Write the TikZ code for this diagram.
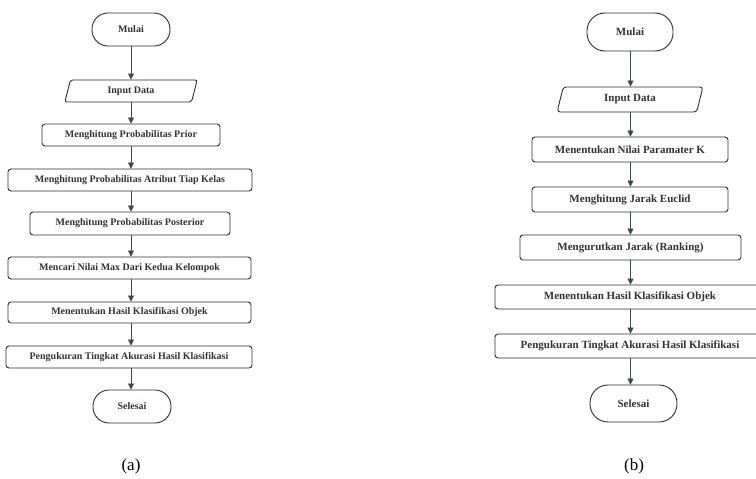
\documentclass[tikz,border=0pt]{standalone}
\usepackage{fontspec}
\setmainfont{Liberation Serif}
\usepackage{xcolor}
\usetikzlibrary{arrows.meta,shapes.geometric}
\definecolor{lineclr}{HTML}{3E4650}
\definecolor{edgeclr}{HTML}{2E2E2E}

\begin{document}
\begin{tikzpicture}[x=1pt, y=1pt,
                box/.style={draw=edgeclr, line width=0.9pt, rounded corners=3pt, inner sep=0pt,
                    font=\fontsize{10}{12}\selectfont\bfseries, text=black!80},
                bigbox/.style={box, font=\fontsize{11}{12}\selectfont\bfseries},
                term/.style={box, rounded corners=16pt},
                io/.style={box, rounded corners=2pt, trapezium, trapezium left angle=76, trapezium right angle=104,
                    trapezium stretches=true},
                arr/.style={-{Triangle[length=6pt,width=6pt]}, draw=lineclr, fill=lineclr, line width=0.7pt}]
                \clip (0,0) rectangle (756,-479);
                \fill[white] (0,0) rectangle (756,-479);

                \node[term, minimum width=78, minimum height=33] (mulaiA) at (131,-29.5) {Mulai};
                \node[io, minimum width=133, minimum height=22] (inputA) at (131,-91) {Input Data};
                \node[box, minimum width=178, minimum height=22] (priorA) at (131,-135) {Menghitung Probabilitas Prior};
                \node[box, minimum width=244, minimum height=22] (atributA) at (130,-180) {Menghitung Probabilitas Atribut Tiap Kelas};
                \node[box, minimum width=200, minimum height=23] (posteriorA) at (130,-223.5) {Menghitung Probabilitas Posterior};
                \node[box, minimum width=243, minimum height=22] (maxA) at (129.5,-268) {Mencari Nilai Max Dari Kedua Kelompok};
                \node[box, minimum width=243, minimum height=21] (objekA) at (129.5,-312.5) {Menentukan Hasil Klasifikasi Objek};
                \node[box, minimum width=246, minimum height=22] (ukurA) at (129,-357) {Pengukuran Tingkat Akurasi Hasil Klasifikasi};
                \node[term, minimum width=78, minimum height=33] (selesaiA) at (132,-406.5) {Selesai};

                \draw[arr] (mulaiA.south -| 131,0) -- (inputA.north -| 131,0);
                \draw[arr] (inputA.south -| 131,0) -- (priorA.north -| 131,0);
                \draw[arr] (priorA.south -| 131,0) -- (atributA.north -| 131,0);
                \draw[arr] (atributA.south -| 131,0) -- (posteriorA.north -| 131,0);
                \draw[arr] (posteriorA.south -| 131,0) -- (maxA.north -| 131,0);
                \draw[arr] (maxA.south -| 131,0) -- (objekA.north -| 131,0);
                \draw[arr] (objekA.south -| 131,0) -- (ukurA.north -| 131,0);
                \draw[arr] (ukurA.south -| 131,0) -- (selesaiA.north -| 131,0);

                \node[term, bigbox, minimum width=86, minimum height=38, rounded corners=18pt] (mulaiB) at (630,-32) {Mulai};
                \node[io, bigbox, minimum width=146, minimum height=25] (inputB) at (630,-99.5) {Input Data};
                \node[bigbox, minimum width=196, minimum height=25] (paramB) at (630,-149.5) {Menentukan Nilai Paramater K};
                \node[bigbox, minimum width=196, minimum height=25] (euclidB) at (630,-199.5) {Menghitung Jarak Euclid};
                \node[bigbox, minimum width=221, minimum height=25] (rankB) at (630.5,-247.5) {Mengurutkan Jarak (Ranking)};
                \node[bigbox, minimum width=270, minimum height=24] (objekB) at (630,-297) {Menentukan Hasil Klasifikasi Objek};
                \node[bigbox, minimum width=270, minimum height=24] (ukurB) at (630,-346) {Pengukuran Tingkat Akurasi Hasil Klasifikasi};
                \node[term, bigbox, minimum width=87, minimum height=37, rounded corners=18pt] (selesaiB) at (633.5,-403.5) {Selesai};

                \draw[arr] (mulaiB.south -| 630.5,0) -- (inputB.north -| 630.5,0);
                \draw[arr] (inputB.south -| 630.5,0) -- (paramB.north -| 630.5,0);
                \draw[arr] (paramB.south -| 630.5,0) -- (euclidB.north -| 630.5,0);
                \draw[arr] (euclidB.south -| 630.5,0) -- (rankB.north -| 630.5,0);
                \draw[arr] (rankB.south -| 630.5,0) -- (objekB.north -| 630.5,0);
                \draw[arr] (objekB.south -| 630.5,0) -- (ukurB.north -| 630.5,0);
                \draw[arr] (ukurB.south -| 630.5,0) -- (selesaiB.north -| 630.5,0);

                \node[font=\fontsize{17}{19}\selectfont] (capA) at (131,-466) {(a)};
                \node[font=\fontsize{17}{19}\selectfont] (capB) at (634,-466) {(b)};
            \end{tikzpicture}
\end{document}
